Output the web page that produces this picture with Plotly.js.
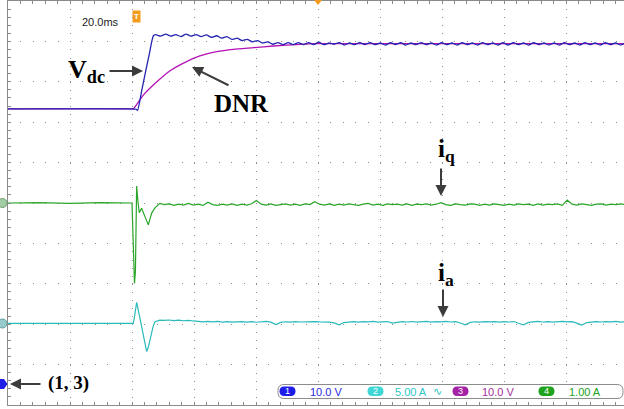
<!DOCTYPE html>
<html>
<head>
<meta charset="utf-8">
<script src="https://cdn.plot.ly/plotly-3.0.1.min.js"></script>
<style>
  html, body { margin: 0; padding: 0; background: #ffffff; overflow: hidden; }
  #scope { width: 624px; height: 409px; }
</style>
</head>
<body>
<div id="scope"></div>
<script>
// ---- Captured waveforms (time in ms, 0 = trigger) ----

// Channel 1: DC-link voltage Vdc (V)
const vdcT = [
  -40, -20, 0, 1.3, 1.8, 3.1, 4.35, 5.65, 6.3, 6.9,
  7.6, 9.2, 10.9, 12.5, 14.1, 15.8, 17.4, 19.0, 20.7, 22.3,
  24.0, 25.6, 27.3, 28.9, 30.6, 32.2, 33.9, 35.5, 37.2, 38.8,
  40.5, 42.1, 43.8, 45.4, 47.1, 48.7, 50.4, 52.0, 53.7, 55.3,
  57.0, 58.6, 60.3, 61.9, 63.6, 65.2, 66.9, 68.5, 70.2, 71.8,
  73.5, 75.1, 76.8, 78.4, 80.1, 81.7, 83.4, 85.0, 86.7, 88.3,
  90.0, 91.6, 93.3, 94.9, 96.6, 98.2, 99.9, 101.5, 103.2, 104.8,
  106.5, 108.1, 109.8, 111.4, 113.1, 114.7, 116.4, 118.0, 119.7, 121.3,
  123.0, 124.6, 126.3, 127.9, 129.6, 131.2, 132.9, 134.5, 136.2, 137.8,
  139.5, 141.1, 142.8, 144.4, 146.1, 147.7, 149.4, 151.0, 152.7, 154.3,
  156.0, 157.6, 159.0
];
const vdcV = [
  67.9, 67.9, 67.9, 67.8, 67.5, 72.3, 77.0, 81.7, 84.3, 86.0,
  86.3, 85.9, 86.4, 85.9, 86.3, 85.8, 86.4, 85.9, 86.3, 85.8,
  86.2, 85.6, 86.0, 85.4, 85.8, 85.1, 85.4, 84.8, 85.1, 84.5,
  84.8, 84.2, 84.5, 83.9, 84.3, 83.8, 84.3, 83.8, 84.3, 83.8,
  84.3, 83.8, 84.4, 83.8, 84.2, 83.9, 84.3, 83.7, 84.2, 83.8,
  84.3, 83.8, 84.3, 83.8, 84.2, 83.7, 84.3, 83.8, 84.3, 83.7,
  84.2, 83.8, 84.3, 83.8, 84.2, 83.7, 84.3, 83.8, 84.2, 83.7,
  84.3, 83.8, 84.2, 83.7, 84.3, 83.8, 84.2, 83.7, 84.3, 83.7,
  84.3, 83.8, 84.2, 83.7, 84.3, 83.8, 84.2, 83.7, 84.2, 83.7,
  84.3, 83.8, 84.2, 83.7, 84.3, 83.8, 84.2, 83.7, 84.3, 83.8,
  84.2, 83.7, 84.1
];

// Channel 3: DNR output (V)
const dnrT = [-40, 0, 0.4, 3.65, 8.0, 12.3, 17.6, 21.9, 27.3, 32.7, 39.2, 45.6, 54.2, 59.6, 80, 120, 159];
const dnrV = [67.9, 67.9, 67.85, 71.3, 74.6, 77.35, 79.6, 81.0, 82.05, 82.64, 83.04, 83.46, 83.88, 84.03, 84.05, 84.05, 84.05];

// Channel 4: q-axis current iq (A)
const iqT = [
  -40, -30, -20, -10, 0, 0.35, 0.55, 0.8, 1.1, 1.3,
  1.5, 1.9, 2.35, 3.1, 3.65, 4.4, 5.26, 6.35, 7.4, 9.0,
  10.4, 11.9, 13.5, 15.1, 16.6, 18.2, 19.8, 21.3, 22.9, 24.5,
  26.0, 27.6, 29.2, 30.7, 32.3, 33.9, 35.4, 37.0, 38.6, 40.1,
  41.7, 43.3, 44.8, 46.4, 48.0, 49.5, 51.1, 52.7, 54.2, 55.8,
  57.4, 58.9, 60.5, 62.1, 63.6, 65.2, 66.8, 68.3, 69.9, 71.5,
  73.0, 74.6, 76.2, 77.7, 79.3, 80.9, 82.4, 84.0, 85.6, 87.1,
  88.7, 90.3, 91.8, 93.4, 95.0, 96.5, 98.1, 99.7, 101.2, 102.8,
  104.4, 105.9, 107.5, 109.1, 110.6, 112.2, 113.8, 115.3, 116.9, 118.5,
  120.0, 121.6, 123.2, 124.7, 126.3, 127.9, 129.4, 131.0, 132.6, 134.1,
  135.7, 137.3, 138.8, 140.4, 142.0, 143.5, 145.1, 146.7, 148.2, 149.8,
  151.4, 152.9, 154.5, 156.1, 157.6, 159.0
];
const iqA = [
  0, 0.01, -0.01, 0.01, 0, -0.9, -1.5, -1.99, -1.7, -0.3,
  0.42, 0.05, -0.24, -0.13, -0.22, -0.38, -0.54, -0.25, -0.12, -0.01,
  -0.04, -0.02, -0.06, -0.03, -0.05, -0.01, -0.05, -0.03, -0.06, 0.02,
  -0.04, -0.06, -0.03, -0.05, -0.02, -0.06, -0.03, -0.05, -0.02, 0.06,
  -0.03, -0.05, -0.02, -0.06, -0.04, -0.02, -0.05, -0.03, -0.06, -0.02,
  -0.04, 0.03, -0.03, -0.05, -0.02, -0.06, -0.03, -0.05, -0.02, -0.04,
  -0.06, -0.03, -0.01, -0.05, -0.03, -0.06, -0.02, -0.04, -0.03, -0.05,
  -0.02, -0.06, -0.03, -0.04, -0.02, -0.05, -0.03, 0.01, -0.04, -0.06,
  -0.02, -0.04, -0.05, -0.02, -0.03, -0.06, -0.03, -0.05, -0.02, -0.04,
  -0.06, -0.03, -0.05, -0.02, -0.04, -0.03, -0.06, -0.02, -0.05, -0.03,
  -0.04, -0.02, -0.06, 0.07, -0.03, -0.05, -0.02, -0.04, -0.06, -0.03,
  -0.02, -0.05, -0.03, -0.04, -0.02, -0.04
];

// Channel 2: phase current ia (A)
const iaT = [
  -40, 0, 0.4, 0.8, 1.2, 1.5, 1.9, 2.4, 3.0, 3.7,
  4.3, 4.74, 5.3, 6.0, 6.8, 7.4, 8.2, 9.0,
  10.4, 11.9, 13.5, 15.1, 16.6, 18.2, 19.8, 21.3, 22.9, 24.5,
  26.0, 27.6, 29.2, 30.7, 32.3, 33.9, 35.4, 37.0, 38.6, 40.1,
  41.7, 43.3, 44.8, 46.4, 48.0, 49.5, 51.1, 52.7, 54.2, 55.8,
  57.4, 58.9, 60.5, 62.1, 63.6, 65.2, 66.8, 68.3, 69.9, 71.5,
  73.0, 74.6, 76.2, 77.7, 79.3, 80.9, 82.4, 84.0, 85.6, 87.1,
  88.7, 90.3, 91.8, 93.4, 95.0, 96.5, 98.1, 99.7, 101.2, 102.8,
  104.4, 105.9, 107.5, 109.1, 110.6, 112.2, 113.8, 115.3, 116.9, 118.5,
  120.0, 121.6, 123.2, 124.7, 126.3, 127.9, 129.4, 131.0, 132.6, 134.1,
  135.7, 137.3, 138.8, 140.4, 142.0, 143.5, 145.1, 146.7, 148.2, 149.8,
  151.4, 152.9, 154.5, 156.1, 157.6, 159.0
];
const iaA = [
  0, 0, 0, 0.8, 2.0, 2.6, 1.9, 0.9, -0.5, -1.9,
  -3.0, -3.5, -2.9, -1.6, -0.4, 0.2, 0.3, 0.41,
  0.38, 0.42, 0.35, 0.40, 0.33, 0.38, 0.30, 0.25, 0.20, 0.26,
  0.18, 0.24, 0.16, 0.22, 0.15, 0.20, 0.23, 0.16, 0.21, 0.14,
  0.19, 0.24, 0.15, -0.15, 0.12, 0.20, 0.15, 0.22, 0.17, 0.21,
  0.16, 0.23, 0.18, 0.21, 0.15, 0.06, -0.18, 0.10, 0.19, 0.22,
  0.16, 0.22, 0.18, 0.24, 0.15, 0.20, 0.23, 0.04, 0.14, 0.21,
  0.17, 0.23, 0.15, 0.20, 0.24, 0.16, 0.22, 0.18, 0.25, 0.17,
  0.21, 0.05, -0.18, 0.12, 0.20, 0.16, 0.23, 0.18, 0.22, 0.15,
  0.21, 0.17, 0.23, 0.02, -0.17, 0.13, 0.20, 0.24, 0.17, 0.22,
  0.16, 0.21, 0.24, 0.18, 0.22, 0.04, -0.20, 0.10, 0.19, 0.23,
  0.17, 0.22, 0.18, 0.24, 0.16, 0.20
];

// Vertical settings readout
const chanNames = ['1', '2', '3', '4'];
const chanScales = ['10.0 V', '5.00 A', '10.0 V', '1.00 A'];

// ---- Screen geometry ----
const W = 624, H = 409;
const M = { l: 8, r: 0, t: 1, b: 4 };
const PW = W - M.l - M.r, PH = H - M.t - M.b;
const px2x = p => (p - M.l) / PW;
const py2y = p => 1 - (p - M.t) / PH;

// 20 ms/div, 10 divisions; the screen's right edge is cut a little short
const msPerDiv = 20;
const tLeft = -40;
const tRight = tLeft + msPerDiv * PW / 62;

// channel offsets in divisions below screen centre, and volts/amps per div
const ch13 = { off: 4.46, scale: 10 };
const ch2 = { off: 2.98, scale: 5 };
const ch4 = { off: 0, scale: 1 };
const chRange = c => [-(5 - c.off) * c.scale, (5 + c.off) * c.scale];

const colBlue = '#2424b0', colMag = '#b412b4', colGreen = '#2aa52a', colCyan = '#2cb9b9';

const traces = [
  { x: dnrT, y: dnrV, yaxis: 'y2', mode: 'lines', line: { color: colMag, width: 1.3, shape: 'spline', smoothing: 0.6 } },
  { x: vdcT, y: vdcV, yaxis: 'y2', mode: 'lines', line: { color: colBlue, width: 1.3, shape: 'spline', smoothing: 0.5 } },
  { x: iaT, y: iaA, yaxis: 'y3', mode: 'lines', line: { color: colCyan, width: 1.2 } },
  { x: iqT, y: iqA, yaxis: 'y', mode: 'lines', line: { color: colGreen, width: 1.2 } }
].map(t => Object.assign(t, { hoverinfo: 'skip', showlegend: false }));

const gridCol = '#8e8e8e', frameCol = '#8a8a8a';

const hiddenAxis = r => ({ range: r, overlaying: 'y', visible: false, fixedrange: true });
const crossX = side => ({
  overlaying: 'x', anchor: 'free', position: 0.5, side: side, range: [tLeft, tRight],
  showgrid: false, zeroline: false, showline: false, showticklabels: false,
  ticks: 'outside', ticklen: 3, tickwidth: 1, tickcolor: frameCol, dtick: 4, tick0: 0
});
const crossY = side => ({
  overlaying: 'y', anchor: 'free', position: px2x(318), side: side, range: [-5, 5],
  showgrid: false, zeroline: false, showline: false, showticklabels: false,
  ticks: 'outside', ticklen: 3, tickwidth: 1, tickcolor: frameCol, dtick: 0.2, tick0: 0
});

// ---- Screen furniture ----
function roundRect(x0, y0, x1, y1, r) {
  const P = (x, y) => px2x(x) + ',' + py2y(y);
  return 'M' + P(x0 + r, y0) + ' L' + P(x1 - r, y0) + ' Q' + P(x1, y0) + ' ' + P(x1, y0 + r) +
    ' L' + P(x1, y1 - r) + ' Q' + P(x1, y1) + ' ' + P(x1 - r, y1) +
    ' L' + P(x0 + r, y1) + ' Q' + P(x0, y1) + ' ' + P(x0, y1 - r) +
    ' L' + P(x0, y0 + r) + ' Q' + P(x0, y0) + ' ' + P(x0 + r, y0) + ' Z';
}
function poly(pts) {
  return 'M' + pts.map(p => px2x(p[0]) + ',' + py2y(p[1])).join(' L') + ' Z';
}

const pillCols = ['#1e1ee8', '#3fd6d6', '#a423a4', '#1fa31f'];
const textCols = ['#2a2ae0', '#2ec6c6', '#a02ea0', '#22a022'];
const pillX = [287.5, 375.5, 460.5, 546.5];
const labelX = [308, 393, 480, 567];

const shapes = [
  // readout box
  { type: 'path', xref: 'paper', yref: 'paper', path: roundRect(278, 384.5, 623, 398.5, 6),
    fillcolor: '#ffffff', line: { color: '#8c8c8c', width: 1 }, layer: 'above' },
  // trigger position marker at top centre
  { type: 'path', xref: 'paper', yref: 'paper', path: poly([[314, 0], [322, 0], [318, 5]]),
    fillcolor: '#f29b1d', line: { width: 0 }, layer: 'above' },
  // ground-level markers
  { type: 'circle', xref: 'paper', yref: 'paper', x0: px2x(-2), x1: px2x(7), y0: py2y(207.5), y1: py2y(198.5),
    fillcolor: '#a3cda3', line: { color: '#6c9c6c', width: 1 }, layer: 'above' },
  { type: 'circle', xref: 'paper', yref: 'paper', x0: px2x(-2), x1: px2x(7), y0: py2y(328), y1: py2y(319),
    fillcolor: '#97caca', line: { color: '#5e9c9c', width: 1 }, layer: 'above' },
  { type: 'path', xref: 'paper', yref: 'paper', path: poly([[0, 379], [4, 379], [7.5, 384], [4, 389], [0, 389]]),
    fillcolor: '#1e1ee8', line: { width: 0 }, layer: 'above' }
];
pillX.forEach((cx, i) => {
  shapes.push({ type: 'path', xref: 'paper', yref: 'paper', path: roundRect(cx - 8, 386.5, cx + 8, 396, 4.7),
    fillcolor: pillCols[i], line: { width: 0 }, layer: 'above' });
});

const serif = 'Liberation Serif, Times New Roman, serif';
const sans = 'Liberation Sans, Arial, sans-serif';
const arrow = (hx, hy, ax, ay) => ({
  xref: 'paper', yref: 'paper', x: px2x(hx), y: py2y(hy), ax: ax, ay: ay, text: '',
  showarrow: true, arrowhead: 2, arrowsize: 1.1, arrowwidth: 2, arrowcolor: '#3c3c3c'
});
const label = (txt, lx, ly, size, opts) => Object.assign({
  xref: 'paper', yref: 'paper', x: px2x(lx), y: py2y(ly), text: txt, showarrow: false,
  xanchor: 'left', yanchor: 'middle', font: { family: serif, size: size, color: '#000000' }
}, opts || {});

const annotations = [
  label('20.0ms', 80, 22, 11, { font: { family: sans, size: 11, color: '#222222' } }),
  { xref: 'paper', yref: 'paper', x: px2x(132), y: py2y(9.5), text: '<b>T</b>', showarrow: false,
    font: { family: sans, size: 8, color: '#ffffff' }, bgcolor: '#f29b1d', borderpad: 1 },
  label('<b>V<sub>dc</sub></b>', 66, 71, 26),
  arrow(143, 71, -35, 0),
  label('<b>DNR</b>', 212, 103, 25),
  arrow(192, 67, 38, 19),
  label('<b>i<sub>q</sub></b>', 436, 150, 25),
  arrow(441, 196, 0, -29),
  label('<b>i<sub>a</sub></b>', 436, 274, 25),
  arrow(443, 317, 0, -29),
  label('<b>(1, 3)</b>', 46, 383, 19),
  arrow(10, 384, 32, 0),
  label('\u223F', 431, 391, 11, { font: { family: 'DejaVu Sans, sans-serif', size: 11, color: textCols[1] } })
];
pillX.forEach((cx, i) => {
  annotations.push({ xref: 'paper', yref: 'paper', x: px2x(cx), y: py2y(391.3), text: chanNames[i], showarrow: false,
    xanchor: 'center', yanchor: 'middle', font: { family: sans, size: 9, color: '#ffffff' } });
  annotations.push(label(chanScales[i], labelX[i], 391.5, 11, { font: { family: sans, size: 11, color: textCols[i] } }));
});

const layout = {
  width: W, height: H,
  margin: Object.assign({ pad: 0 }, M),
  paper_bgcolor: '#ffffff', plot_bgcolor: '#ffffff',
  showlegend: false,
  xaxis: {
    range: [tLeft, tRight], dtick: msPerDiv, tick0: 0,
    showgrid: true, gridcolor: gridCol, gridwidth: 1, griddash: '1px,' + (PH / 50 - 1).toFixed(2) + 'px',
    zeroline: false, showline: true, linecolor: frameCol, linewidth: 1, mirror: 'ticks',
    ticks: 'inside', ticklen: 3, tickcolor: frameCol, showticklabels: false, fixedrange: true,
    minor: { ticks: 'inside', ticklen: 3, tickcolor: frameCol, dtick: 4, tick0: 0, showgrid: false }
  },
  yaxis: {
    range: chRange(ch4), dtick: 1, tick0: 0,
    showgrid: true, gridcolor: gridCol, gridwidth: 1, griddash: '1px,' + (62 / 5 - 1).toFixed(2) + 'px',
    zeroline: false, showline: true, linecolor: frameCol, linewidth: 1.5, mirror: false,
    ticks: 'inside', ticklen: 3, tickcolor: frameCol, showticklabels: false, fixedrange: true,
    minor: { ticks: 'inside', ticklen: 3, tickcolor: frameCol, dtick: 0.2, tick0: 0, showgrid: false }
  },
  yaxis2: hiddenAxis(chRange(ch13)),
  yaxis3: hiddenAxis(chRange(ch2)),
  xaxis2: crossX('bottom'),
  xaxis3: crossX('top'),
  yaxis4: crossY('left'),
  yaxis5: crossY('right'),
  shapes: shapes,
  annotations: annotations
};

Plotly.newPlot('scope', traces, layout, { staticPlot: true, displayModeBar: false });
</script>
</body>
</html>
